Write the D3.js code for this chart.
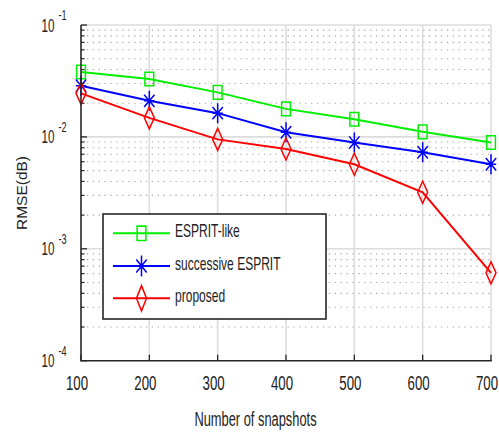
<!DOCTYPE html>
<html>
<head>
<meta charset="utf-8">
<script src="https://cdn.jsdelivr.net/npm/d3@7"></script>
<style>
  html, body { margin: 0; padding: 0; background: #fff; }
  svg { display: block; }
  text { font-family: "Liberation Sans", Arial, sans-serif; fill: #222; }
</style>
</head>
<body>
<div id="chart"></div>
<script>
// RMSE versus number of snapshots for three estimators
const snapshots = [100, 200, 300, 400, 500, 600, 700];
const espritLike = [0.0380, 0.0329, 0.0250, 0.0178, 0.0144, 0.0111, 0.0089];
const successiveEsprit = [0.0287, 0.0210, 0.0163, 0.0110, 0.0089, 0.0073, 0.0057];
const proposed = [0.0245, 0.0148, 0.0095, 0.0078, 0.0057, 0.0032, 0.00061];

const seriesNames = ["ESPRIT-like", "successive ESPRIT", "proposed"];
const seriesColors = ["#00ee00", "#0000ff", "#ff0000"];
const seriesMarkers = ["square", "star", "diamond"];
const xTicks = [100, 200, 300, 400, 500, 600, 700];
const yDecades = [-4, -3, -2, -1];

const W = 499, H = 432;
const svg = d3.select("#chart").append("svg").attr("width", W).attr("height", H);

const x = d3.scaleLinear().domain([100, 700]).range([81, 491]);
const y = d3.scaleLog().domain([1e-4, 1e-1]).range([360.7, 25]);

// text is slightly condensed horizontally and tall
const TX = 0.83, TY = 1.3;

// minor grid (dotted) at 2..9 x each decade
const minorVals = [];
for (let e = -4; e < -1; e++) for (let m = 2; m <= 9; m++) minorVals.push(m * Math.pow(10, e));

const grid = svg.append("g");
grid.selectAll("line.minor").data(minorVals).join("line")
  .attr("x1", x(100)).attr("x2", x(700))
  .attr("y1", d => y(d)).attr("y2", d => y(d))
  .attr("stroke", "#a8a8a8").attr("stroke-width", 1.1)
  .attr("stroke-dasharray", "1.3,4.6");

grid.selectAll("line.majorY").data(yDecades.slice(1)).join("line")
  .attr("x1", x(100)).attr("x2", x(700))
  .attr("y1", d => y(Math.pow(10, d))).attr("y2", d => y(Math.pow(10, d)))
  .attr("stroke", "#dcdcdc").attr("stroke-width", 1.6);

grid.selectAll("line.majorX").data(xTicks.slice(1)).join("line")
  .attr("x1", d => x(d)).attr("x2", d => x(d))
  .attr("y1", y(1e-1)).attr("y2", y(1e-4))
  .attr("stroke", "#dcdcdc").attr("stroke-width", 1.6);

// marker shapes (width, height)
function markerPath(type) {
  if (type === "square") {
    const w = 4.4, h = 6.8;
    return `M${-w},${-h}H${w}V${h}H${-w}Z`;
  }
  if (type === "diamond") {
    const w = 5, h = 11;
    return `M0,${-h}L${w},0L0,${h}L${-w},0Z`;
  }
  const w = 5.2, h = 10;
  return `M0,${-h}V${h}M${-w},0H${w}M${-w},${-h * 0.62}L${w},${h * 0.62}M${-w},${h * 0.62}L${w},${-h * 0.62}`;
}

const allSeries = [espritLike, successiveEsprit, proposed];
const line = d3.line().x((d, i) => x(snapshots[i])).y(d => y(d));

const plot = svg.append("g");
allSeries.forEach((vals, k) => {
  plot.append("path").datum(vals).attr("d", line)
    .attr("fill", "none").attr("stroke", seriesColors[k]).attr("stroke-width", 2);
});
allSeries.forEach((vals, k) => {
  plot.selectAll(null).data(vals).join("path")
    .attr("transform", (d, i) => `translate(${x(snapshots[i])},${y(d)})`)
    .attr("d", markerPath(seriesMarkers[k]))
    .attr("fill", "none").attr("stroke", seriesColors[k]).attr("stroke-width", 1.5);
});

// axes
const axes = svg.append("g").attr("stroke", "#262626");
axes.append("line").attr("x1", x(100)).attr("x2", x(100)).attr("y1", y(1e-1)).attr("y2", y(1e-4)).attr("stroke-width", 1.6);
axes.append("line").attr("x1", x(100) - 0.8).attr("x2", x(700) + 0.8).attr("y1", y(1e-4)).attr("y2", y(1e-4)).attr("stroke-width", 1.6);
axes.selectAll("line.xt").data(xTicks).join("line")
  .attr("x1", d => x(d)).attr("x2", d => x(d))
  .attr("y1", y(1e-4)).attr("y2", y(1e-4) - 6).attr("stroke-width", 1.3);
axes.selectAll("line.ym").data(minorVals).join("line")
  .attr("x1", x(100)).attr("x2", x(100) + 3.5)
  .attr("y1", d => y(d)).attr("y2", d => y(d)).attr("stroke-width", 1.2);
axes.selectAll("line.yM").data(yDecades).join("line")
  .attr("x1", x(100)).attr("x2", x(100) + 6)
  .attr("y1", d => y(Math.pow(10, d))).attr("y2", d => y(Math.pow(10, d))).attr("stroke-width", 1.3);

// x tick labels
svg.selectAll("text.xl").data(xTicks).join("text")
  .attr("transform", d => `translate(${x(d) - 4},${390}) scale(${TX},${TY})`)
  .attr("text-anchor", "middle").attr("font-size", 16)
  .text(d => d);

// y tick labels: 10 with exponent
const yl = svg.selectAll("g.yl").data(yDecades).join("g");
yl.append("text")
  .attr("transform", d => `translate(54.5,${y(Math.pow(10, d)) + 6.5}) scale(${TX},${TY})`)
  .attr("text-anchor", "end").attr("font-size", 14)
  .text("10");
yl.append("text")
  .attr("transform", d => `translate(58.5,${y(Math.pow(10, d)) - 5}) scale(${TX},${TY})`)
  .attr("text-anchor", "start").attr("font-size", 11)
  .text(d => String(d));

// axis titles
svg.append("text")
  .attr("transform", `translate(255.5,426) scale(${TX},${TY})`)
  .attr("text-anchor", "middle").attr("font-size", 15.5)
  .text("Number of snapshots");
svg.append("text")
  .attr("transform", "translate(26.5,193) rotate(-90)")
  .attr("text-anchor", "middle").attr("font-size", 15.5)
  .text("RMSE(dB)");

// legend
const lg = svg.append("g");
lg.append("rect").attr("x", 103).attr("y", 214).attr("width", 223).attr("height", 105)
  .attr("fill", "#fff").attr("stroke", "#262626").attr("stroke-width", 1.6);
const rowY = [233.3, 266, 298.3];
seriesNames.forEach((name, k) => {
  lg.append("line").attr("x1", 113).attr("x2", 170).attr("y1", rowY[k]).attr("y2", rowY[k])
    .attr("stroke", seriesColors[k]).attr("stroke-width", 2);
  lg.append("path").attr("transform", `translate(141.5,${rowY[k]}) scale(1,${k === 2 ? 1.15 : 1.05})`)
    .attr("d", markerPath(seriesMarkers[k]))
    .attr("fill", "none").attr("stroke", seriesColors[k]).attr("stroke-width", 1.5);
  lg.append("text")
    .attr("transform", `translate(175,${rowY[k] + 3.5}) scale(${TX},${TY})`)
    .attr("font-size", 14.5)
    .text(name);
});
</script>
</body>
</html>
